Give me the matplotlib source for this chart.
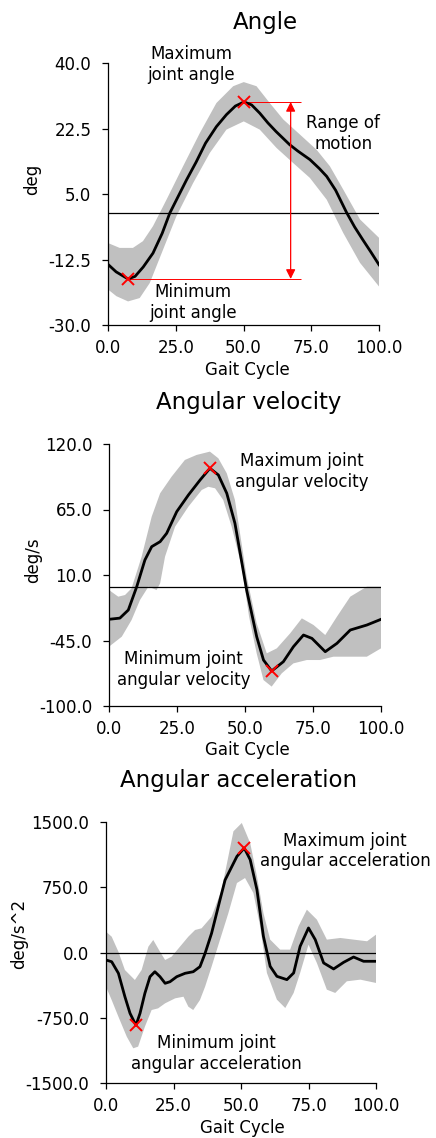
import numpy as np
import matplotlib
matplotlib.use('Agg')
import matplotlib.pyplot as plt

plt.rcParams['axes.unicode_minus'] = False
plt.rcParams['font.family'] = ['DejaVu Sans']

# ---- Angle ----
ang_x = [0, 3, 7.4, 10, 13, 16.6, 20, 22.8, 26, 29, 32.5, 36, 40, 43.7, 47, 50.2,
         53, 56, 59, 62, 65, 67, 70, 74.5, 78, 80.7, 84, 88, 91, 94, 97, 100]
ang_mean = [-13.8, -15.8, -17.7, -17.0, -14.5, -10.8, -5.5, -0.1, 4.5, 8.8, 13.5, 18.6, 23.0, 26.2,
            28.5, 29.6, 28.8, 26.6, 24.0, 21.7, 19.6, 18.2, 16.5, 14.2, 11.8, 9.7, 6.0, 0.1,
            -3.8, -7.2, -10.5, -13.9]
ang_up_x = [0, 4.3, 9.2, 12.9, 16.6, 21.6, 27.7, 33.9, 40, 46.2, 50.1, 54.8, 59.7, 64.7,
            70.8, 77, 81.9, 86.8, 93, 100]
ang_up = [-8.1, -9.4, -9.4, -7.6, -3.6, 3.5, 12.4, 21.3, 29.3, 33.8, 34.9, 33.8, 29.3, 24.9,
          20.9, 16.8, 12.4, 6.2, -1.8, -6.7]
ang_lo_x = [0, 3.1, 7.4, 11.7, 15.4, 20.3, 25.2, 31.4, 37.6, 43.7, 50.1, 56, 62.2, 68.3,
            74.5, 80.7, 86.8, 93, 100]
ang_lo = [-20.5, -22.3, -23.7, -22.8, -18.8, -9.9, -1.0, 7.9, 16.0, 22.2, 24.4, 22.2, 17.3,
          13.3, 9.3, 3.5, -5.4, -13.4, -19.7]
ang_max = (50.2, 29.6)
ang_min = (7.4, -17.7)
ang_ticks = [40.0, 22.5, 5.0, -12.5, -30.0]

# ---- Angular velocity ----
vel_x = [0, 4, 7.1, 10.2, 13.2, 15.7, 18.8, 21.2, 24.9, 29.2, 33.5, 37.1, 40.2, 43.3,
         46.3, 50.6, 54.3, 56.8, 59.8, 64.1, 67.8, 71.5, 74.6, 79.5, 83.8, 88.7, 94.8, 100]
vel_mean = [-27.2, -26.2, -19.4, 0.2, 22.6, 33.8, 38.0, 45.0, 63.2, 77.2, 89.8, 99.6, 94.0,
            78.6, 53.4, -2.6, -41.8, -61.4, -70.6, -62.8, -50.2, -40.4, -43.2, -54.4, -47.4,
            -36.2, -32.0, -27.2]
vel_up_x = [0, 3.4, 5.9, 8.3, 12, 15.7, 18.8, 23, 27.9, 32.2, 37.1, 40.2, 43.3, 46.3,
            50.6, 54.3, 58, 61.7, 66.6, 70.9, 75.2, 79.5, 83.8, 88.7, 94.8, 100]
vel_up = [-2.6, -8.2, -6.8, -1.2, 25.4, 59.0, 78.6, 92.5, 106.6, 110.8, 113.6, 108.0, 95.4,
          73.0, 8.6, -30.6, -55.8, -51.6, -39.0, -26.4, -32.0, -40.4, -25.0, -8.2, 0.2, 0.2]
vel_lo_x = [0, 4.7, 8.3, 11.4, 14.5, 17.5, 18.8, 20.6, 24.3, 29.2, 34.1, 36.5, 39, 42,
            45.1, 48.8, 51.5, 54.3, 56.8, 59.8, 63.5, 67.8, 72.7, 77.6, 82.5, 88.7, 94.8, 100]
vel_lo = [-50.2, -41.8, -27.8, -11.0, 0.2, -2.6, 3.0, 25.4, 50.6, 67.4, 81.4, 84.1, 82.8,
          73.0, 50.6, 17.0, -25.0, -55.8, -78.2, -83.7, -72.6, -64.2, -61.4, -61.4, -58.6,
          -58.6, -58.6, -51.6]
vel_max = (37.1, 99.6)
vel_min = (59.8, -70.6)
vel_ticks = [120.0, 65.0, 10.0, -45.0, -100.0]

# ---- Angular acceleration ----
acc_x = [0, 2.1, 4.6, 7.0, 8.9, 11.1, 12.6, 14.4, 16.3, 18.1, 20, 21.9, 23.7, 26.2, 29.3,
         32.3, 34.8, 36.7, 39.1, 42.2, 44.1, 48.5, 51.2, 53.4, 55.9, 58.3, 60.8, 63.3, 67,
         69.5, 71.9, 75, 77.5, 80.6, 84.3, 88, 91.7, 95.4, 100]
acc_mean = [-86, -106, -239, -508, -699, -837, -699, -469, -278, -221, -278, -354, -336,
            -278, -239, -221, -163, -9, 221, 603, 833, 1105, 1201, 1067, 722, 186, -159,
            -274, -312, -235, 71, 282, 148, -120, -189, -113, -52, -101, -101]
acc_up_x = [0, 2.1, 4.6, 7.0, 10.7, 13.2, 15.7, 17.5, 20, 21.9, 24.3, 27.4, 30.5, 33,
            35.4, 39.1, 42.8, 47.2, 50.3, 53.4, 55.9, 58.3, 60.8, 64.5, 68.2, 71.3, 74.4,
            78.1, 81.8, 86.8, 91.7, 96.7, 100]
acc_up = [239, 182, 9, -201, -316, -201, 67, 144, 9, -86, -48, 67, 182, 259, 278, 411, 718,
          1393, 1489, 1259, 876, 454, 148, 33, 33, 301, 492, 378, 148, 167, 148, 129, 205]
acc_lo_x = [0, 2.1, 4.6, 7.7, 10.1, 11.9, 14.4, 16.9, 19.3, 21.9, 25.6, 28.7, 30.5, 32.3,
            34.8, 36.7, 39.1, 42.2, 45.3, 48.5, 51.5, 54.6, 57.1, 59.6, 63.3, 66.4, 69.5,
            71.9, 75, 78.1, 81.8, 84.9, 89.2, 94.2, 100]
acc_lo = [-393, -546, -738, -968, -1101, -1082, -853, -661, -642, -584, -527, -508, -623,
          -661, -546, -393, -163, 144, 450, 799, 856, 684, 301, -235, -542, -638, -465,
          -235, 90, -120, -427, -465, -331, -312, -350]
acc_max = (51.2, 1201)
acc_min = (11.1, -837)
acc_ticks = [1500.0, 750.0, 0.0, -750.0, -1500.0]

x_ticks = [0.0, 25.0, 50.0, 75.0, 100.0]

band_color = '#c0c0c0'


def draw_panel(ax, x, mean, up_x, up, lo_x, lo, yticks, ylabel, pmax, pmin):
    poly_x = list(up_x) + list(lo_x[::-1])
    poly_y = list(up) + list(lo[::-1])
    ax.fill(poly_x, poly_y, color=band_color, lw=0, zorder=1)
    ax.axhline(0, color='black', lw=0.9, zorder=2)
    ax.plot(x, mean, color='black', lw=2.0, zorder=3, solid_joinstyle='round')
    ax.plot([pmax[0], pmin[0]], [pmax[1], pmin[1]], 'x', color='red', ms=9, mew=1.4, zorder=4)
    ax.set_xlim(0, 100)
    ax.set_ylim(min(yticks), max(yticks))
    ax.set_xticks(x_ticks)
    ax.set_xticklabels(['%.1f' % t for t in x_ticks])
    ax.set_yticks(yticks)
    ax.set_yticklabels(['%.1f' % t for t in yticks])
    for s in ['top', 'right']:
        ax.spines[s].set_visible(False)
    for s in ['left', 'bottom']:
        ax.spines[s].set_linewidth(0.9)
    ax.tick_params(labelsize=12, length=4, width=0.9, pad=6)
    ax.tick_params(axis='y', pad=8)
    ax.set_xlabel('Gait Cycle', fontsize=12, va='center')
    ax.set_ylabel(ylabel, fontsize=12, va='center')


fig = plt.figure(figsize=(4.36, 11.38), dpi=100)
W, H = 436.0, 1138.0

# Angle
ax1 = fig.add_axes([108 / W, 1 - 325 / H, 271 / W, 262 / H])
draw_panel(ax1, ang_x, ang_mean, ang_up_x, ang_up, ang_lo_x, ang_lo, ang_ticks, 'deg',
           ang_max, ang_min)
ax1.hlines([ang_max[1], ang_min[1]], [ang_max[0], ang_min[0]], 71.4, color='red', lw=0.7, zorder=2)
ax1.annotate('', xy=(67.4, ang_min[1]), xytext=(67.4, ang_max[1]),
             arrowprops=dict(arrowstyle='<|-|>', color='red', lw=0.9,
                             mutation_scale=14, shrinkA=0, shrinkB=0), zorder=4)
ax1.text(30.8, 39.7, 'Maximum\njoint angle', fontsize=12, ha='center', va='center')
ax1.text(86.8, 21.1, 'Range of\nmotion', fontsize=12, ha='center', va='center')
ax1.text(31.4, -23.9, 'Minimum\njoint angle', fontsize=12, ha='center', va='center')
ax1.xaxis.set_label_coords(0.513, -45 / 262)
ax1.yaxis.set_label_coords(-0.28, 0.555)
fig.text(265 / W, 1 - 22 / H, 'Angle', fontsize=16.5, ha='center', va='center')

# Angular velocity
ax2 = fig.add_axes([109 / W, 1 - 706 / H, 272 / W, 262 / H])
draw_panel(ax2, vel_x, vel_mean, vel_up_x, vel_up, vel_lo_x, vel_lo, vel_ticks, 'deg/s',
           vel_max, vel_min)
ax2.text(70.9, 96.8, 'Maximum joint\nangular velocity', fontsize=12, ha='center', va='center')
ax2.text(27.3, -69.2, 'Minimum joint\nangular velocity', fontsize=12, ha='center', va='center')
ax2.xaxis.set_label_coords(0.507, -44 / 262)
ax2.yaxis.set_label_coords(-0.279, 0.555)
fig.text(249 / W, 1 - 402 / H, 'Angular velocity', fontsize=16.5, ha='center', va='center')

# Angular acceleration
ax3 = fig.add_axes([106 / W, 1 - 1083 / H, 270 / W, 261 / H])
draw_panel(ax3, acc_x, acc_mean, acc_up_x, acc_up, acc_lo_x, acc_lo, acc_ticks, 'deg/s^2',
           acc_max, acc_min)
ax3.text(88.6, 1167, 'Maximum joint\nangular acceleration', fontsize=12, ha='center', va='center')
ax3.text(40.8, -1159, 'Minimum joint\nangular acceleration', fontsize=12, ha='center', va='center')
ax3.xaxis.set_label_coords(0.504, -45 / 261)
ax3.yaxis.set_label_coords(-0.322, 0.57)
fig.text(239 / W, 1 - 780 / H, 'Angular acceleration', fontsize=16.5, ha='center', va='center')

fig.savefig('out.png', dpi=100)
